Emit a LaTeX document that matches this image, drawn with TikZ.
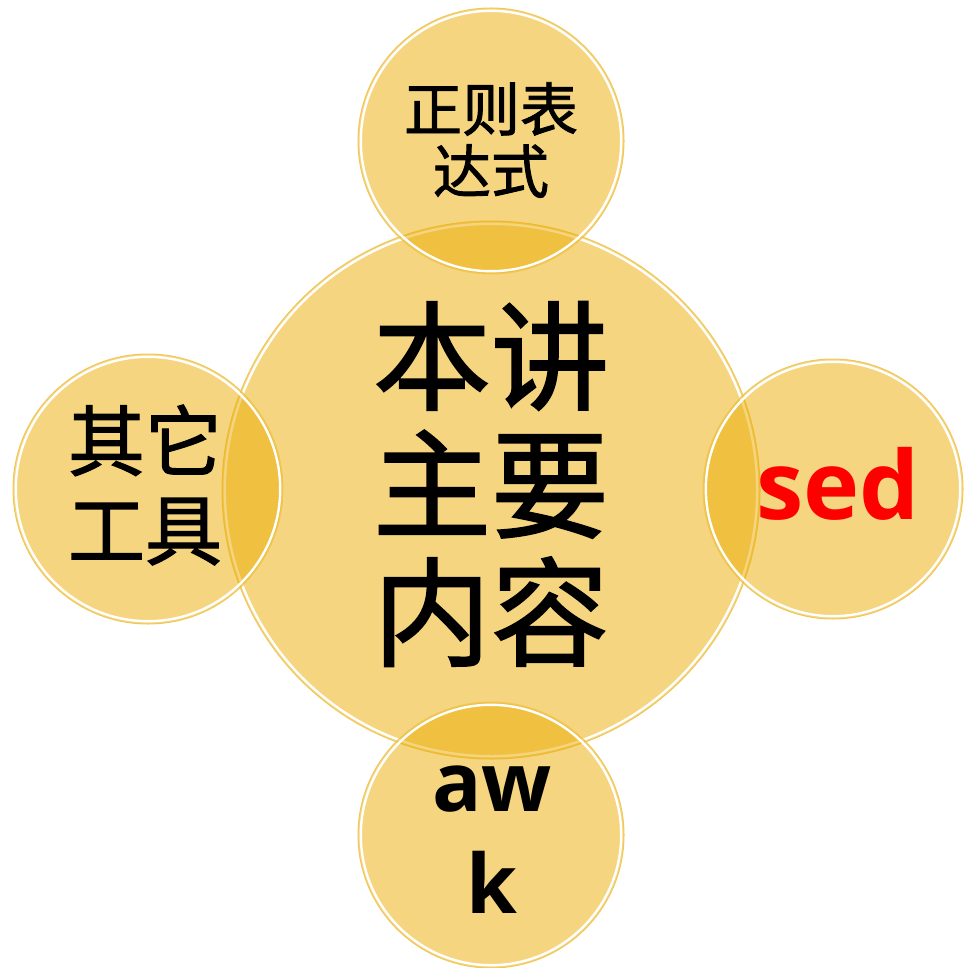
\documentclass[tikz,border=0pt]{standalone}
\usepackage{fontspec}
\newfontfamily\cjk{Noto Sans CJK SC}
\newfontfamily\cjkm[FakeBold=1.5]{Noto Sans CJK SC}
\newfontfamily\latinb{Open Sans}
\definecolor{gold}{RGB}{235,171,1}
\definecolor{rimgold}{RGB}{240,200,90}
\tikzset{
  bubble/.style={circle, fill=gold, fill opacity=0.5, draw=rimgold, line width=1pt, inner sep=0pt},
}
\newcommand{\bub}[4]{%
  \node[bubble, minimum size=#3*2pt] (#4) at (#1,#2) {};
  \draw[white, line width=2.4pt] (#1,#2) circle (#3-2.8);
}
\begin{document}
\begin{tikzpicture}[x=1pt,y=-1pt]
\useasboundingbox (0,0) rectangle (963,968);
\bub{491}{490}{269}{c}
\bub{491}{141}{133}{t}
\bub{491}{835}{133}{b}
\bub{148}{489}{135}{l}
\bub{833}{489}{130}{r}
\node[align=center, font={\cjkm\fontsize{118}{128}\selectfont}] (ct) at (491,484) {本讲\\主要\\内容};
\node[align=center, font={\cjkm\fontsize{58}{62}\selectfont}] (tt) at (491,140) {正则表\\达式};
\node[align=center, font={\cjkm\fontsize{77}{89}\selectfont}] (lt) at (145,485) {其它\\工具};
\node[font={\latinb\bfseries\fontsize{95}{100}\selectfont}, text=red] (rt) at (838,484) {sed};
\node[align=center, font={\latinb\bfseries\fontsize{82}{102}\selectfont}] (bt) at (492,840) {aw\\k};
\end{tikzpicture}
\end{document}
